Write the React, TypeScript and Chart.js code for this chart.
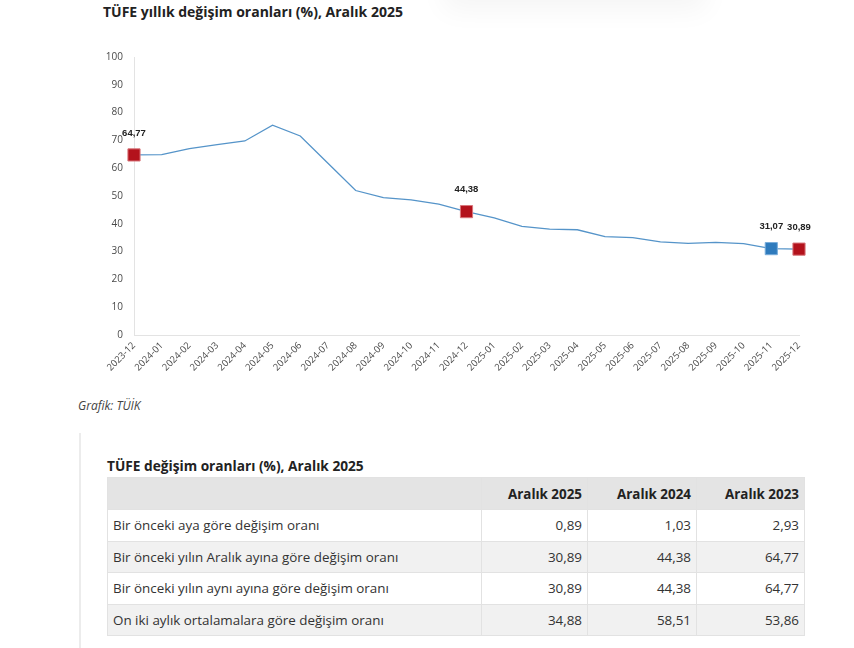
import React, { useEffect, useRef } from "react";
import { Chart, registerables } from "chart.js";

Chart.register(...registerables);

// Monthly periods on the x axis
const periods = [
  "2023-12", "2024-01", "2024-02", "2024-03", "2024-04", "2024-05", "2024-06",
  "2024-07", "2024-08", "2024-09", "2024-10", "2024-11", "2024-12",
  "2025-01", "2025-02", "2025-03", "2025-04", "2025-05", "2025-06",
  "2025-07", "2025-08", "2025-09", "2025-10", "2025-11", "2025-12",
];

// Annual CPI change (%)
const annualRates = [
  64.77, 64.86, 67.07, 68.5, 69.8, 75.45, 71.6,
  61.78, 51.97, 49.38, 48.58, 47.09, 44.38,
  42.12, 39.05, 38.1, 37.86, 35.41, 35.05,
  33.52, 32.95, 33.29, 32.87, 31.07, 30.89,
];

// Highlighted months: December of each year in red, previous month in blue
const redIndices = [0, 12, 24];
const blueIndices = [23];

// Summary table
const tableColumns = ["Aralık 2025", "Aralık 2024", "Aralık 2023"];
const tableRowLabels = [
  "Bir önceki aya göre değişim oranı",
  "Bir önceki yılın Aralık ayına göre değişim oranı",
  "Bir önceki yılın aynı ayına göre değişim oranı",
  "On iki aylık ortalamalara göre değişim oranı",
];
const monthlyChange = [0.89, 1.03, 2.93];
const decemberChange = [30.89, 44.38, 64.77];
const sameMonthChange = [30.89, 44.38, 64.77];
const twelveMonthAvgChange = [34.88, 58.51, 53.86];
const tableValues = [monthlyChange, decemberChange, sameMonthChange, twelveMonthAvgChange];

const fmt = (v: number) => v.toFixed(2).replace(".", ",");

const FONT = "'Open Sans', 'Noto Sans', sans-serif";

const valueLabels = {
  id: "valueLabels",
  afterDatasetsDraw(chart: any) {
    const ctx = chart.ctx;
    const meta = chart.getDatasetMeta(0);
    const idx = [...redIndices, ...blueIndices];
    ctx.save();
    ctx.font = "bold 9.5px 'Liberation Sans', Arial, sans-serif";
    ctx.fillStyle = "#222";
    ctx.textAlign = "center";
    ctx.textBaseline = "middle";
    idx.forEach((i) => {
      const p = meta.data[i];
      if (!p) return;
      ctx.fillText(fmt(annualRates[i]), p.x, p.y - 22);
    });
    ctx.restore();
  },
};

function pointColor(i: number, red: string, blue: string) {
  if (redIndices.includes(i)) return red;
  if (blueIndices.includes(i)) return blue;
  return "rgba(0,0,0,0)";
}

function CpiChart() {
  const ref = useRef<HTMLCanvasElement | null>(null);
  useEffect(() => {
    if (!ref.current) return;
    const chart = new Chart(ref.current, {
      type: "line",
      data: {
        labels: periods,
        datasets: [
          {
            data: annualRates,
            borderColor: "#5594c9",
            borderWidth: 1.3,
            tension: 0,
            pointStyle: "rect",
            pointRadius: annualRates.map((_, i) =>
              redIndices.includes(i) || blueIndices.includes(i) ? 8.6 : 0
            ),
            pointBackgroundColor: annualRates.map((_, i) => pointColor(i, "#b3121c", "#2f7bbd")),
            pointBorderColor: annualRates.map((_, i) => pointColor(i, "#d9777c", "#79addb")),
            pointBorderWidth: 1,
          },
        ],
      },
      options: {
        responsive: false,
        animation: false,
        layout: { padding: { left: 0, top: 16, right: 21, bottom: 0 } },
        plugins: {
          legend: { display: false },
          tooltip: { enabled: false },
          title: { display: false },
        },
        scales: {
          x: {
            offset: false,
            grid: { color: "rgba(0,0,0,0)", drawTicks: false },
            border: { display: true, color: "#e3e3e3", width: 1 },
            ticks: {
              autoSkip: false,
              maxRotation: 45,
              minRotation: 45,
              padding: 5,
              color: "#4a4a4a",
              font: { family: FONT, size: 9.5 },
            },
            afterFit: (s: any) => {
              s.height = 55;
            },
          },
          y: {
            min: 0,
            max: 100,
            grid: { color: "rgba(0,0,0,0)", drawTicks: false },
            border: { display: true, color: "#e3e3e3", width: 1 },
            ticks: {
              stepSize: 10,
              padding: 11,
              color: "#4a4a4a",
              font: { family: FONT, size: 10 },
            },
            afterFit: (s: any) => {
              s.width = 54;
            },
          },
        },
      },
      plugins: [valueLabels],
    });
    return () => chart.destroy();
  }, []);
  return <canvas ref={ref} width={740} height={350} style={{ display: "block" }} />;
}

export default function App() {
  const cellBorder = "1px solid #e2e2e2";
  return (
    <div
      style={{
        position: "absolute",
        left: 0,
        top: 0,
        width: 854,
        height: 648,
        overflow: "hidden",
        background: "#fff",
        fontFamily: FONT,
        color: "#333",
      }}
    >
      <div
        style={{
          position: "absolute",
          left: 450,
          top: -60,
          width: 250,
          height: 60,
          background: "#fff",
          boxShadow: "0 4px 28px 6px rgba(0,0,0,0.045)",
        }}
      />
      <div
        style={{
          position: "absolute",
          left: 103,
          top: 2,
          fontSize: 14,
          fontWeight: 700,
          color: "#222",
          whiteSpace: "nowrap",
        }}
      >
        TÜFE yıllık değişim oranları (%), Aralık 2025
      </div>
      <div style={{ position: "absolute", left: 80, top: 40, width: 740, height: 350 }}>
        <CpiChart />
      </div>
      <div
        style={{
          position: "absolute",
          left: 78,
          top: 397,
          fontSize: 12,
          fontStyle: "italic",
          color: "#444",
        }}
      >
        Grafik: TÜİK
      </div>
      <div
        style={{
          position: "absolute",
          left: 79,
          top: 433,
          width: 2,
          height: 215,
          background: "#ececec",
        }}
      />
      <div
        style={{
          position: "absolute",
          left: 107,
          top: 456,
          fontSize: 13.7,
          fontWeight: 700,
          color: "#222",
          whiteSpace: "nowrap",
        }}
      >
        TÜFE değişim oranları (%), Aralık 2025
      </div>
      <table
        style={{
          position: "absolute",
          left: 107,
          top: 477,
          width: 697,
          borderCollapse: "collapse",
          fontSize: 13.4,
          tableLayout: "fixed",
        }}
      >
        <colgroup>
          <col style={{ width: 374 }} />
          <col style={{ width: 106 }} />
          <col style={{ width: 109 }} />
          <col style={{ width: 108 }} />
        </colgroup>
        <thead>
          <tr style={{ background: "#e4e4e4", height: 32 }}>
            <th style={{ border: cellBorder }} />
            {tableColumns.map((c) => (
              <th
                key={c}
                style={{
                  border: cellBorder,
                  textAlign: "right",
                  padding: "0 5px",
                  fontWeight: 700,
                  color: "#222",
                }}
              >
                {c}
              </th>
            ))}
          </tr>
        </thead>
        <tbody>
          {tableRowLabels.map((label, r) => (
            <tr key={label} style={{ background: r % 2 === 1 ? "#f1f1f1" : "#fff", height: 31.5 }}>
              <td style={{ border: cellBorder, padding: "0 5px", whiteSpace: "nowrap" }}>{label}</td>
              {tableValues[r].map((v, c) => (
                <td key={c} style={{ border: cellBorder, padding: "0 5px", textAlign: "right" }}>
                  {fmt(v)}
                </td>
              ))}
            </tr>
          ))}
        </tbody>
      </table>
    </div>
  );
}
